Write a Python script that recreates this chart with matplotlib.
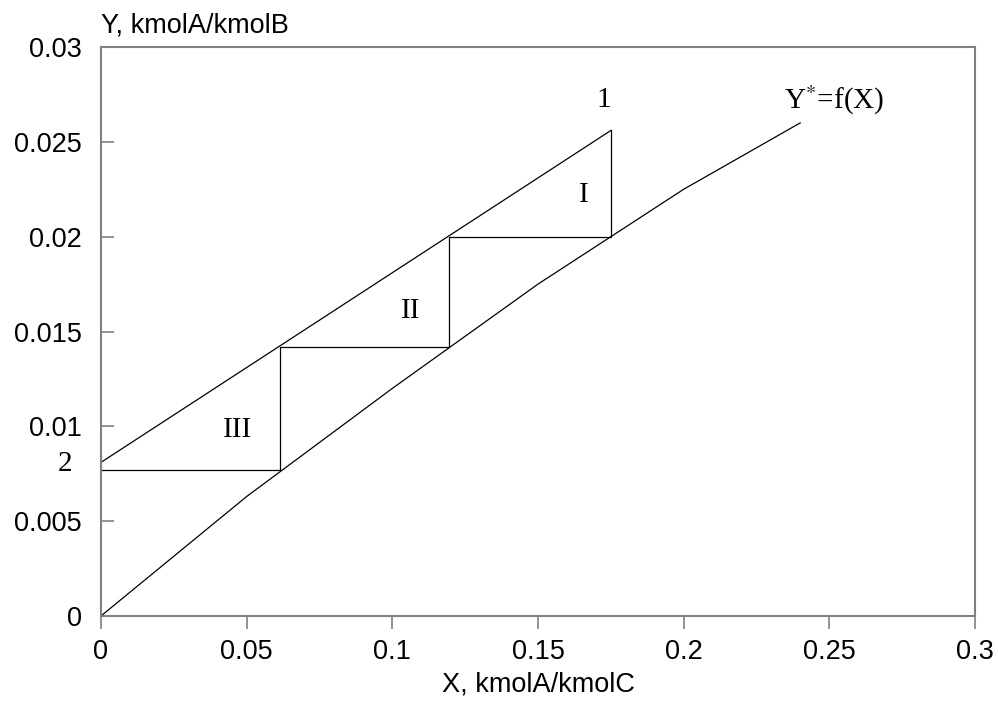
import numpy as np
import matplotlib
matplotlib.use('Agg')
import matplotlib.pyplot as plt

# Equilibrium curve Y* = f(X)
x_eq = [0, 0.05, 0.1, 0.15, 0.2, 0.24]
y_eq = [0, 0.0063, 0.012, 0.0175, 0.0225, 0.026]

# Operating line (points 2 and 1)
x_op = [0, 0.175]
y_op = [0.0081, 0.0256]

# Step construction between the lines
x_steps = [0.175, 0.175, 0.1195, 0.1195, 0.0615, 0.0615, 0]
y_steps = [0.0256, 0.0200, 0.0200, 0.0142, 0.0142, 0.0077, 0.0077]

# Stage labels
stage_names = ['I', 'II', 'III']
stage_x = [0.1658, 0.1064, 0.047]
stage_y = [0.0222, 0.0161, 0.0098]

x_ticks = [0, 0.05, 0.1, 0.15, 0.2, 0.25, 0.3]
x_ticklabels = ['0', '0.05', '0.1', '0.15', '0.2', '0.25', '0.3']
y_ticks = [0, 0.005, 0.01, 0.015, 0.02, 0.025, 0.03]
y_ticklabels = ['0', '0.005', '0.01', '0.015', '0.02', '0.025', '0.03']

sans = 'Liberation Sans'
serif = 'Liberation Serif'
spine_col = '#808080'
fs_sans = 19.5
fs_serif = 21

fig = plt.figure(figsize=(9.98, 7.18), dpi=100)
ax = fig.add_axes([0.1012, 0.1421, 0.8758, 0.7924])

ax.plot(x_eq, y_eq, color='black', lw=0.9)
ax.plot(x_op, y_op, color='black', lw=0.9)
ax.plot(x_steps, y_steps, color='black', lw=0.9)

for name, sx, sy in zip(stage_names, stage_x, stage_y):
    ax.text(sx, sy, name, family=serif, fontsize=fs_serif, ha='center', va='center')

ax.text(0.1727, 0.0272, '1', family=serif, fontsize=fs_serif, ha='center', va='center')
ax.text(-0.0124, 0.0080, '2', family=serif, fontsize=fs_serif, ha='center', va='center',
        clip_on=False)
ax.text(0.2516, 0.0272, r'Y$^{*}$=f(X)', family=serif, fontsize=fs_serif,
        ha='center', va='center', math_fontfamily='stix')

ax.set_xlim(0, 0.3)
ax.set_ylim(0, 0.03)
ax.set_xticks(x_ticks)
ax.set_xticklabels(x_ticklabels, family=sans, fontsize=fs_sans)
ax.set_yticks(y_ticks)
ax.set_yticklabels(y_ticklabels, family=sans, fontsize=fs_sans)

ax.tick_params(axis='x', direction='out', length=9.4, width=1.2, color=spine_col, pad=7)
ax.tick_params(axis='y', direction='in', length=9.4, width=1.2, color=spine_col, pad=14)

for s in ax.spines.values():
    s.set_color(spine_col)
    s.set_linewidth(1.5)

ax.set_xlabel('X, kmolA/kmolC', family=sans, fontsize=fs_sans, labelpad=5)
ax.text(0, 1.0387, 'Y, kmolA/kmolB', family=sans, fontsize=fs_sans,
        ha='left', va='center', transform=ax.transAxes)

fig.savefig('out.png', dpi=100)
